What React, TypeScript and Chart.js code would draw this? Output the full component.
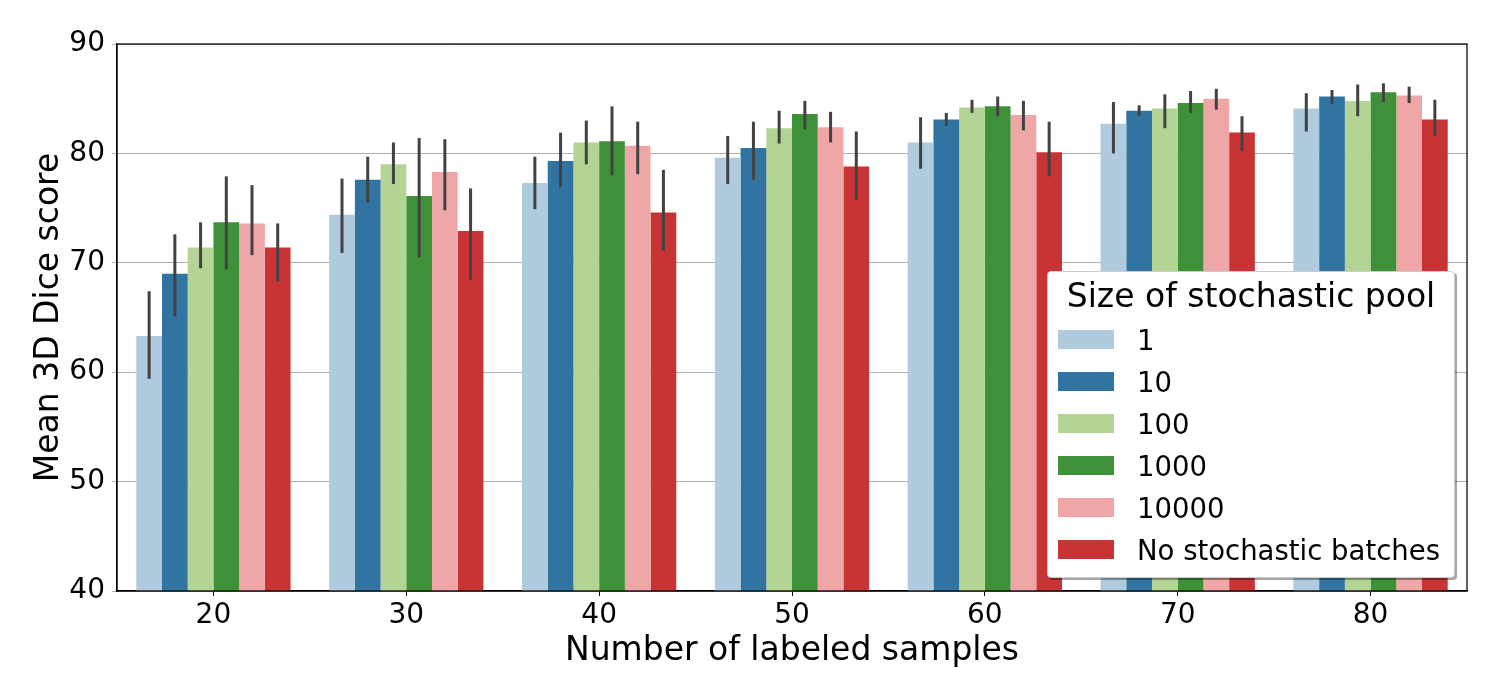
import React, { useEffect, useRef } from 'react';
import { Chart, registerables } from 'chart.js';

Chart.register(...registerables);

const FONT = "'DejaVu Sans', sans-serif";

const categories = ['20', '30', '40', '50', '60', '70', '80'];
const poolNames = ['1', '10', '100', '1000', '10000', 'No stochastic batches'];
const poolColors = ['#afcbdd', '#3274a1', '#b4d496', '#3f9139', '#efa6a6', '#c83336'];

// mean 3D Dice per pool size
const pool1 = [63.3, 74.4, 77.3, 79.6, 81.0, 82.7, 84.1];
const pool10 = [69.0, 77.6, 79.3, 80.5, 83.1, 83.9, 85.2];
const pool100 = [71.4, 79.0, 81.0, 82.3, 84.2, 84.1, 84.8];
const pool1000 = [73.7, 76.1, 81.1, 83.6, 84.3, 84.6, 85.6];
const pool10000 = [73.6, 78.3, 80.7, 82.4, 83.5, 85.0, 85.3];
const noStoch = [71.4, 72.9, 74.6, 78.8, 80.1, 81.9, 83.1];

// error bar ends
const pool1Low = [59.4, 70.9, 74.9, 77.2, 78.6, 80.0, 82.0];
const pool1High = [67.4, 77.7, 79.7, 81.6, 83.3, 84.7, 85.5];
const pool10Low = [65.1, 75.5, 76.9, 77.6, 82.5, 83.4, 84.5];
const pool10High = [72.6, 79.7, 81.9, 82.9, 83.7, 84.4, 85.8];
const pool100Low = [69.5, 77.2, 79.0, 80.9, 83.7, 82.3, 83.4];
const pool100High = [73.7, 81.0, 83.0, 83.9, 84.9, 85.4, 86.3];
const pool1000Low = [69.4, 70.5, 78.0, 82.2, 83.4, 83.7, 84.7];
const pool1000High = [77.9, 81.4, 84.3, 84.8, 85.2, 85.7, 86.4];
const pool10000Low = [70.7, 74.8, 78.1, 81.0, 82.1, 84.0, 84.6];
const pool10000High = [77.1, 81.3, 82.9, 83.8, 84.8, 85.9, 86.1];
const noStochLow = [68.3, 68.4, 71.1, 75.7, 77.9, 80.2, 81.6];
const noStochHigh = [73.6, 76.8, 78.5, 82.0, 82.9, 83.4, 84.9];

const means = [pool1, pool10, pool100, pool1000, pool10000, noStoch];
const lows = [pool1Low, pool10Low, pool100Low, pool1000Low, pool10000Low, noStochLow];
const highs = [pool1High, pool10High, pool100High, pool1000High, pool10000High, noStochHigh];

const errorBars = {
  id: 'errorBars',
  afterDatasetsDraw(chart: any) {
    const { ctx, scales } = chart;
    const y = scales.y;
    ctx.save();
    ctx.strokeStyle = '#424242';
    ctx.lineWidth = 3;
    chart.data.datasets.forEach((_ds: any, i: number) => {
      const meta = chart.getDatasetMeta(i);
      meta.data.forEach((bar: any, j: number) => {
        ctx.beginPath();
        ctx.moveTo(bar.x, y.getPixelForValue(lows[i][j]));
        ctx.lineTo(bar.x, y.getPixelForValue(highs[i][j]));
        ctx.stroke();
      });
    });
    ctx.restore();
  },
};

const frame = {
  id: 'frame',
  afterDraw(chart: any) {
    const { ctx, chartArea: a } = chart;
    ctx.save();
    ctx.strokeStyle = '#000';
    ctx.lineWidth = 1.25;
    ctx.strokeRect(a.left, a.top, a.right - a.left, a.bottom - a.top);
    ctx.restore();
  },
};

const App: React.FC = () => {
  const canvasRef = useRef<HTMLCanvasElement>(null);

  useEffect(() => {
    if (!canvasRef.current) return;
    const chart = new Chart(canvasRef.current, {
      type: 'bar',
      data: {
        labels: categories,
        datasets: poolNames.map((name, i) => ({
          label: name,
          data: means[i],
          backgroundColor: poolColors[i],
          barPercentage: 1,
          categoryPercentage: 0.8,
        })),
      },
      options: {
        responsive: false,
        animation: false,
        layout: { padding: { top: 44, right: 33, left: 0, bottom: 0 } },
        plugins: { legend: { display: false }, tooltip: { enabled: false } },
        scales: {
          x: {
            afterFit: (s: any) => {
              s.height = 109;
            },
            grid: {
              offset: false,
              drawOnChartArea: false,
              drawTicks: true,
              tickLength: 5,
              tickColor: '#000',
            },
            border: { display: true, color: '#000', width: 1.25 },
            ticks: { color: '#000', font: { family: FONT, size: 28 }, padding: 3 },
            title: {
              display: true,
              text: 'Number of labeled samples',
              color: '#000',
              font: { family: FONT, size: 33 },
              padding: { top: 0, bottom: 29 },
            },
          },
          y: {
            min: 40,
            max: 90,
            afterFit: (s: any) => {
              s.width = 117;
            },
            grid: { color: '#b0b0b0', lineWidth: 1, tickLength: 5, tickColor: '#b0b0b0' },
            border: { display: true, color: '#000', width: 1.25 },
            ticks: {
              stepSize: 10,
              color: '#000',
              font: { family: FONT, size: 28 },
              padding: 7,
            },
            title: {
              display: true,
              text: 'Mean 3D Dice score',
              color: '#000',
              font: { family: FONT, size: 33 },
              padding: { top: 30, bottom: 0 },
            },
          },
        },
      },
      plugins: [errorBars, frame],
    });
    return () => chart.destroy();
  }, []);

  return (
    <div style={{ position: 'fixed', left: 0, top: 0, width: 1500, height: 700, background: '#fff' }}>
      <canvas ref={canvasRef} width={1500} height={700} />
      <div
        style={{
          position: 'absolute',
          left: 1047,
          top: 271,
          width: 406,
          height: 305,
          background: '#fff',
          border: '1px solid #cccccc',
          borderRadius: 4,
          boxShadow: '2px 2px 0 rgba(0,0,0,0.35)',
          fontFamily: FONT,
          color: '#000',
        }}
      >
        <div
          style={{
            position: 'absolute',
            top: 24,
            left: 0,
            width: '100%',
            textAlign: 'center',
            fontSize: 33,
            lineHeight: '0px',
          }}
        >
          Size of stochastic pool
        </div>
        {poolNames.map((name, i) => (
          <div
            key={name}
            style={{ position: 'absolute', left: 0, top: 68 + i * 42, height: 0, width: '100%' }}
          >
            <div
              style={{
                position: 'absolute',
                left: 10,
                top: -10,
                width: 56,
                height: 19,
                background: poolColors[i],
              }}
            />
            <div style={{ position: 'absolute', left: 89, top: 0, fontSize: 27.5, lineHeight: '0px', whiteSpace: 'nowrap' }}>
              {name}
            </div>
          </div>
        ))}
      </div>
    </div>
  );
};

export default App;
